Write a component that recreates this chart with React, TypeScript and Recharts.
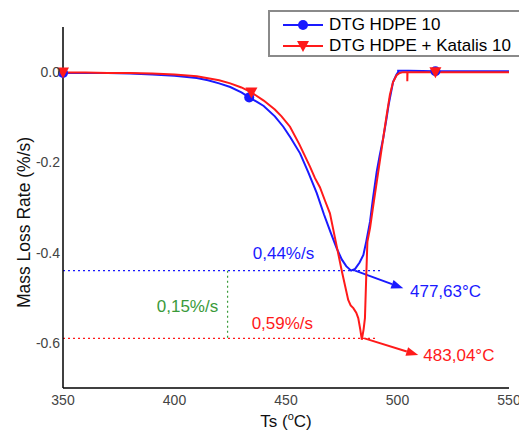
import React from 'react';
import { LineChart, Line, XAxis, YAxis, ReferenceLine, ReferenceDot } from 'recharts';

const FONT = 'Arial, "Liberation Sans", sans-serif';
const BLUE = '#1a1aff';
const RED = '#ff1a1a';
const GREEN = '#3a9a3a';

const SERIES_NAMES = ['DTG HDPE 10', 'DTG HDPE + Katalis 10'];

// DTG HDPE 10
const BLUE_T = [350, 360, 370, 380, 390, 400, 410, 415, 420, 425, 430, 433.5, 437, 440, 445, 448.8, 452, 456.3, 460, 463.8, 467, 470, 472.7, 475, 477, 479.2, 481, 483, 484.7, 486, 487.7, 489, 490.7, 492, 493.6, 495, 496, 498, 499.5, 500.3, 500.3, 505, 517, 530, 550];
const BLUE_V = [-0.002, -0.002, -0.002, -0.003, -0.005, -0.008, -0.013, -0.018, -0.025, -0.033, -0.045, -0.056, -0.066, -0.075, -0.098, -0.121, -0.145, -0.18, -0.222, -0.268, -0.315, -0.355, -0.39, -0.415, -0.43, -0.44, -0.436, -0.422, -0.405, -0.375, -0.331, -0.28, -0.22, -0.185, -0.146, -0.105, -0.073, -0.022, -0.006, 0, 0.003, 0.003, 0.002, 0.002, 0.002];
const BLUE_MARKS = [350, 433.5, 517];

// DTG HDPE + Katalis 10
const RED_T = [350, 360, 370, 380, 390, 400, 410, 420, 425, 430, 434.5, 440, 445, 448, 451.8, 456, 460.8, 463, 465.2, 467.5, 469.7, 472.7, 475, 477.9, 479, 480.2, 481.5, 482.4, 483.3, 484, 484.8, 485.4, 486, 486.5, 487.7, 489, 490.7, 492, 493.6, 495, 496.6, 498, 499.6, 501, 502.5, 504.4, 504.4, 504.5, 517, 550];
const RED_V = [-0.001, -0.001, -0.002, -0.002, -0.003, -0.005, -0.009, -0.018, -0.025, -0.034, -0.045, -0.063, -0.083, -0.098, -0.121, -0.16, -0.21, -0.235, -0.255, -0.285, -0.313, -0.385, -0.44, -0.505, -0.517, -0.523, -0.533, -0.545, -0.57, -0.593, -0.57, -0.545, -0.45, -0.376, -0.345, -0.3, -0.243, -0.2, -0.146, -0.1, -0.05, -0.022, -0.007, -0.002, 0, 0, -0.02, 0, 0, 0];
const RED_MARKS = [350, 434.5, 517];

const X_TICKS = [350, 400, 450, 500, 550];
const Y_TICKS = [-0.6, -0.4, -0.2, 0];

// peak annotations
const PEAK_RATES = [-0.44, -0.59];
const PEAK_TEMPS = ['477,63°C', '483,04°C'];
const RATE_TEXTS = ['0,44%/s', '0,59%/s', '0,15%/s'];

const blueData = BLUE_T.map((t, i) => ({ t, v: BLUE_V[i] }));
const redData = RED_T.map((t, i) => ({ t, v: RED_V[i] }));

const circleDot = (props: any) => {
  const { cx, cy, payload, index } = props;
  if (!BLUE_MARKS.includes(payload.t)) return <g key={`b${index}`} />;
  return <circle key={`b${index}`} cx={cx} cy={cy} r={5} fill={BLUE} />;
};

const triDot = (props: any) => {
  const { cx, cy, payload, index } = props;
  if (!RED_MARKS.includes(payload.t)) return <g key={`r${index}`} />;
  return <polygon key={`r${index}`} points={`${cx - 6},${cy - 5} ${cx + 6},${cy - 5} ${cx},${cy + 6}`} fill={RED} />;
};

const arrow = (color: string) => (props: any) => {
  const { x1, y1, x2, y2 } = props;
  const a = Math.atan2(y2 - y1, x2 - x1);
  const L = 12, W = 4.5;
  const bx = x2 - L * Math.cos(a), by = y2 - L * Math.sin(a);
  const p1 = `${bx + W * Math.sin(a)},${by - W * Math.cos(a)}`;
  const p2 = `${bx - W * Math.sin(a)},${by + W * Math.cos(a)}`;
  return (
    <g>
      <line x1={x1} y1={y1} x2={bx} y2={by} stroke={color} strokeWidth={2} />
      <polygon points={`${x2},${y2} ${p1} ${p2}`} fill={color} />
    </g>
  );
};

const textAt = (txt: string, color: string, anchor: 'start' | 'end') => (props: any) => (
  <text x={props.cx} y={props.cy} fill={color} fontSize={17} fontFamily={FONT} textAnchor={anchor} dominantBaseline="central">
    {txt}
  </text>
);

const LegendBox = () => (
  <div style={{ position: 'absolute', left: 260, top: 2, width: 249, height: 43, border: '2px solid #8a8a8a', background: '#fff', fontFamily: FONT, fontSize: 17 }}>
    {SERIES_NAMES.map((name, i) => (
      <div key={name} style={{ position: 'absolute', left: 12, top: i === 0 ? 3 : 24, height: 20, display: 'flex', alignItems: 'center' }}>
        <svg width={42} height={14}>
          <line x1={1} y1={7} x2={41} y2={7} stroke={i === 0 ? BLUE : RED} strokeWidth={2} />
          {i === 0 ? (
            <circle cx={21} cy={7} r={5} fill={BLUE} />
          ) : (
            <polygon points="15,2 27,2 21,13" fill={RED} />
          )}
        </svg>
        <span style={{ marginLeft: 5, color: '#000', whiteSpace: 'nowrap' }}>{name}</span>
      </div>
    ))}
  </div>
);

export default function App() {
  return (
    <div style={{ position: 'relative', width: 519, height: 424 }}>
      <LineChart width={519} height={424} margin={{ top: 19, right: 18, bottom: 0, left: 0 }}>
        <XAxis
          dataKey="t"
          type="number"
          domain={[350, 550]}
          ticks={X_TICKS}
          tickLine={false}
          tickSize={2}
          tickMargin={5}
          height={44}
          axisLine={{ stroke: '#000', strokeWidth: 1.5 }}
          tick={{ fill: '#444', fontSize: 14, fontFamily: FONT }}
          allowDuplicatedCategory={false}
          label={(p: any) => {
            const vb = p.viewBox;
            return (
              <text x={vb.x + vb.width / 2} y={vb.y + 39} textAnchor="middle" fill="#111" fontSize={17} fontFamily={FONT}>
                Ts (<tspan fontSize={11} dy={-7}>o</tspan><tspan dy={7}>C)</tspan>
              </text>
            );
          }}
        />
        <YAxis
          type="number"
          domain={[-0.7, 0.1]}
          ticks={Y_TICKS}
          tickFormatter={(v: number) => v.toFixed(1)}
          tickLine={false}
          tickSize={2}
          tickMargin={1}
          width={55}
          axisLine={{ stroke: '#000', strokeWidth: 1.5 }}
          tick={{ fill: '#444', fontSize: 14, fontFamily: FONT }}
          label={(p: any) => {
            const vb = p.viewBox;
            const cx = 15.5, cy = vb.y + vb.height / 2 + 15;
            return (
              <text x={cx} y={cy} transform={`rotate(-90 ${cx} ${cy})`} textAnchor="middle" dominantBaseline="central" fill="#111" fontSize={17.5} fontFamily={FONT}>
                Mass Loss Rate (%/s)
              </text>
            );
          }}
        />
        <ReferenceLine segment={[{ x: 350, y: PEAK_RATES[0] }, { x: 492.3, y: PEAK_RATES[0] }]} stroke={BLUE} strokeDasharray="2 3" strokeWidth={1.2} />
        <ReferenceLine segment={[{ x: 350, y: PEAK_RATES[1] }, { x: 490.7, y: PEAK_RATES[1] }]} stroke={RED} strokeDasharray="2 3" strokeWidth={1.2} />
        <ReferenceLine segment={[{ x: 423.8, y: PEAK_RATES[0] }, { x: 423.8, y: PEAK_RATES[1] }]} stroke={GREEN} strokeDasharray="2 3" strokeWidth={1.2} />
        <ReferenceLine segment={[{ x: 481, y: PEAK_RATES[0] }, { x: 502.6, y: -0.479 }]} shape={arrow(BLUE)} />
        <ReferenceLine segment={[{ x: 485.2, y: PEAK_RATES[1] }, { x: 509.3, y: -0.627 }]} shape={arrow(RED)} />
        <Line data={blueData} dataKey="v" name={SERIES_NAMES[0]} type="linear" stroke={BLUE} strokeWidth={2} dot={circleDot} isAnimationActive={false} />
        <Line data={redData} dataKey="v" name={SERIES_NAMES[1]} type="linear" stroke={RED} strokeWidth={2} dot={triDot} isAnimationActive={false} />
        <ReferenceDot x={435.1} y={-0.403} r={0} shape={textAt(RATE_TEXTS[0], BLUE, 'start')} />
        <ReferenceDot x={434.6} y={-0.556} r={0} shape={textAt(RATE_TEXTS[1], RED, 'start')} />
        <ReferenceDot x={419.6} y={-0.52} r={0} shape={textAt(RATE_TEXTS[2], GREEN, 'end')} />
        <ReferenceDot x={505.6} y={-0.487} r={0} shape={textAt(PEAK_TEMPS[0], BLUE, 'start')} />
        <ReferenceDot x={511.6} y={-0.628} r={0} shape={textAt(PEAK_TEMPS[1], RED, 'start')} />
      </LineChart>
      <LegendBox />
    </div>
  );
}
